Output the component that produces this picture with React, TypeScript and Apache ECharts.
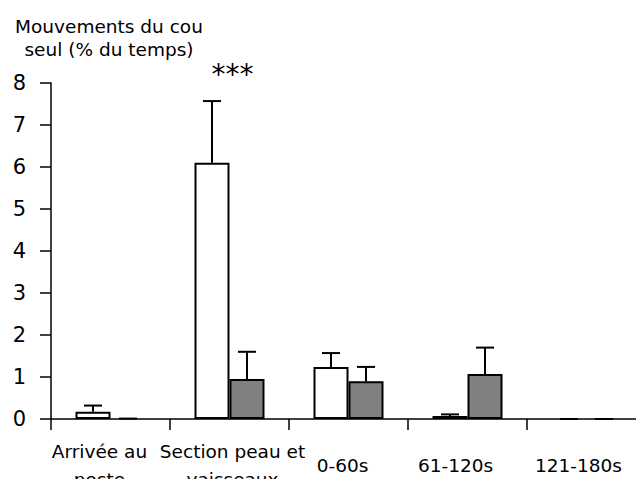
import React, { useEffect, useRef } from "react";
import * as echarts from "echarts";

const categories = ["Arrivée au\nposte", "Section peau et\nvaisseaux", "0-60s", "61-120s", "121-180s"];
const whiteValues = [0.17, 6.1, 1.24, 0.07, 0];
const whiteErrTop = [0.32, 7.57, 1.57, 0.11, 0];
const grayValues = [0, 0.95, 0.9, 1.07, 0];
const grayErrTop = [0.01, 1.6, 1.24, 1.7, 0];
const yTicks = [0, 1, 2, 3, 4, 5, 6, 7, 8];
const titleLines = ["Mouvements du cou", "seul (% du temps)"];
const annotations = [{ category: 1, y: 8.2, text: "***" }];

// horizontal label nudges (px), styling only
const labelShift = [-11, 3, -6, -12, -8];

const FONT = "DejaVu Sans";
const BAR_W = 35;

function barData(values: number[]) {
  return values.map((v) => (v === 0 ? { value: v, itemStyle: { borderWidth: 0 } } : v));
}

function errorSeries(values: number[], tops: number[], offset: number) {
  return {
    type: "custom",
    z: 5,
    encode: { x: 0, y: [1, 2] },
    data: values.map((v, i) => [i, v, tops[i]]),
    renderItem: (params: any, api: any) => {
      const idx = api.value(0);
      const base = api.coord([idx, api.value(1)]);
      const top = api.coord([idx, api.value(2)]);
      const x = top[0] + offset;
      return {
        type: "group",
        children: [
          { type: "line", shape: { x1: x, y1: base[1], x2: x, y2: top[1] }, style: { stroke: "#000", lineWidth: 2 } },
          { type: "line", shape: { x1: x - 9, y1: top[1], x2: x + 9, y2: top[1] }, style: { stroke: "#000", lineWidth: 2 } },
        ],
      };
    },
  };
}

export default function App() {
  const ref = useRef<HTMLDivElement>(null);
  useEffect(() => {
    const chart = echarts.init(ref.current!, undefined, { renderer: "svg" });
    chart.setOption({
      animation: false,
      backgroundColor: "#fff",
      textStyle: { fontFamily: FONT, color: "#000" },
      grid: { left: 51, top: 83, width: 595, height: 336, containLabel: false, outerBoundsMode: "none" },
      xAxis: {
        type: "category",
        data: categories.map((c, i) => {
          const s = labelShift[i];
          return {
            value: c,
            textStyle: {
              verticalAlign: "middle",
              lineHeight: 28,
              padding: s < 0 ? [0, -2 * s, 0, 0] : [0, 0, 0, 2 * s],
            },
          };
        }),
        boundaryGap: true,
        axisLine: { lineStyle: { color: "#000", width: 1.5 } },
        axisTick: { show: true, length: 11, interval: 0, lineStyle: { color: "#000", width: 1.5 } },
        axisLabel: {
          interval: 0,
          color: "#000",
          fontFamily: FONT,
          fontSize: 18.5,
          lineHeight: 28,
          verticalAlign: "middle",
          margin: 46,
        },
        splitLine: { show: false },
      },
      yAxis: {
        type: "value",
        min: yTicks[0],
        max: yTicks[yTicks.length - 1],
        interval: 1,
        axisLine: { show: true, lineStyle: { color: "#000", width: 1.5 } },
        axisTick: { show: true, length: 11, lineStyle: { color: "#000", width: 1.5 } },
        axisLabel: { color: "#000", fontFamily: FONT, fontSize: 21, margin: 25 },
        splitLine: { show: false },
      },
      series: [
        {
          name: "Série 1",
          type: "bar",
          data: barData(whiteValues),
          barWidth: BAR_W,
          barGap: "0%",
          itemStyle: { color: "#ffffff", borderColor: "#000", borderWidth: 2 },
        },
        {
          name: "Série 2",
          type: "bar",
          data: barData(grayValues),
          barWidth: BAR_W,
          barGap: "0%",
          itemStyle: { color: "#808080", borderColor: "#000", borderWidth: 2 },
        },
        errorSeries(whiteValues, whiteErrTop, -BAR_W / 2),
        errorSeries(grayValues, grayErrTop, BAR_W / 2),
      ],
    });
    const graphics: any[] = [
      {
        type: "text",
        x: 109,
        y: 15,
        style: {
          text: titleLines.join("\n"),
          align: "center",
          verticalAlign: "top",
          fontFamily: FONT,
          fontSize: 18.5,
          lineHeight: 23,
          fill: "#000",
        },
      },
    ];
    annotations.forEach((a) => {
      const p = chart.convertToPixel({ xAxisIndex: 0, yAxisIndex: 0 }, [a.category, a.y]) as number[];
      graphics.push({
        type: "text",
        x: p[0] + 3,
        y: p[1],
        style: { text: a.text, align: "center", verticalAlign: "middle", fontFamily: FONT, fontSize: 28, fill: "#000" },
      });
    });
    chart.setOption({ graphic: graphics });
    return () => chart.dispose();
  }, []);
  return <div ref={ref} style={{ position: "absolute", left: 0, top: 0, width: 636, height: 479 }} />;
}
